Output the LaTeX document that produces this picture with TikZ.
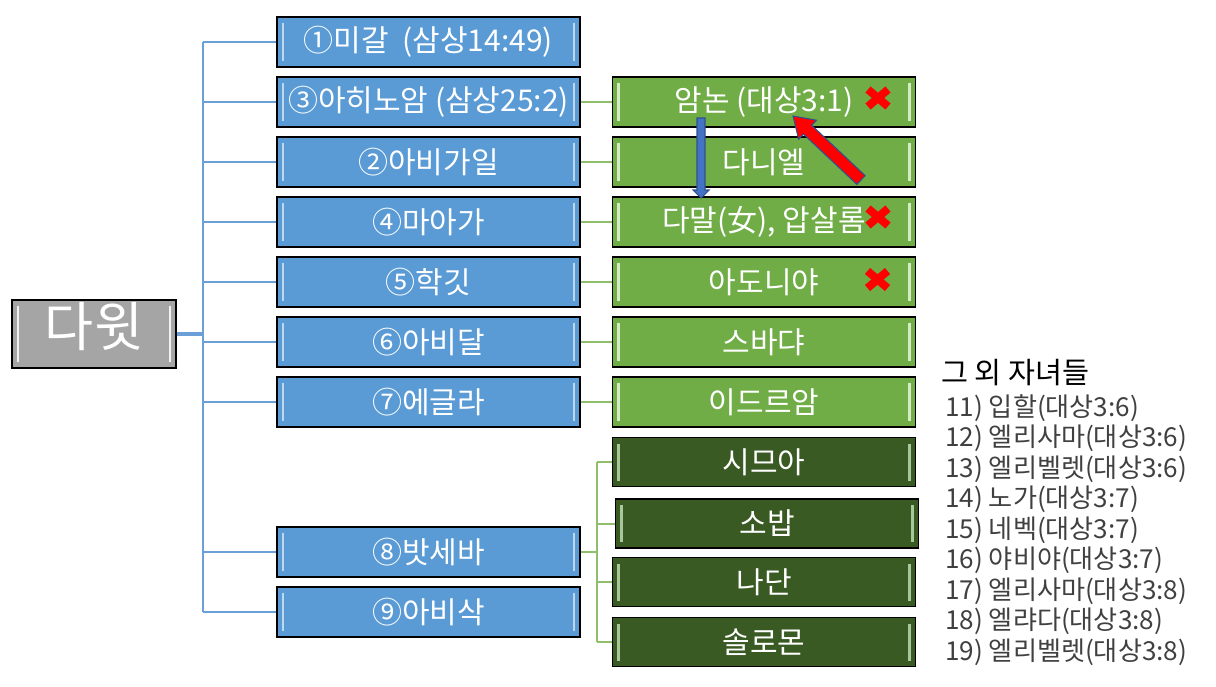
\documentclass[tikz,border=0pt]{standalone}
\usepackage{fontspec}
\setmainfont{Noto Sans CJK KR}
\definecolor{bfill}{HTML}{5B9BD5}
\definecolor{bhl}{HTML}{BDD7EE}
\definecolor{gfill}{HTML}{70AD47}
\definecolor{ghl}{HTML}{D5EBC5}
\definecolor{dfill}{HTML}{3A5A24}
\definecolor{dhl}{HTML}{A9C79A}
\definecolor{grfill}{HTML}{A5A5A5}
\definecolor{grhl}{HTML}{F2F2F2}
\definecolor{bline}{HTML}{6A9FD8}
\definecolor{gline}{HTML}{8FBF6C}
\definecolor{arrowblue}{HTML}{4472C4}
\definecolor{arrowedge}{HTML}{2F528F}
\definecolor{listgrey}{HTML}{404040}
\tikzset{
  bevel/.style={path picture={
    \draw[#1, line width=1.6pt] ([xshift=4.5pt,yshift=-4.5pt]path picture bounding box.north west) -- ([xshift=4.5pt,yshift=4.5pt]path picture bounding box.south west);
    \draw[#1, line width=1.6pt] ([xshift=-4.5pt,yshift=-4.5pt]path picture bounding box.north east) -- ([xshift=-4.5pt,yshift=4.5pt]path picture bounding box.south east);}},
  box/.style={draw=black, line width=0.8pt, minimum width=227.25pt, minimum height=37.5pt,
    inner sep=0pt, text=white, font=\fontsize{22.5}{26}\selectfont},
  bluebox/.style={box, fill=bfill, bevel=bhl},
  greenbox/.style={box, fill=gfill, bevel=ghl},
  darkbox/.style={box, fill=dfill, bevel=dhl, minimum height=36.75pt},
  rootbox/.style={box, fill=grfill, bevel=grhl, minimum width=123pt, minimum height=51pt},
  bconn/.style={draw=bline, line width=1.5pt},
  gconn/.style={draw=gline, line width=1.5pt},
  redcross/.style={draw=red, line width=6pt},
  blockarrow/.style={line width=0.8pt, draw=arrowedge, line join=miter},
  listitem/.style={anchor=west, inner sep=0pt, text=listgrey, font=\fontsize{19.6}{23}\selectfont},
}
\begin{document}
\begin{tikzpicture}[x=0.75pt, y=-0.75pt]
\useasboundingbox (0,0) rectangle (1216,686);

% root
\node[rootbox] (dawit) at (94,334) {};
\node[inner sep=0pt, text=white, font=\fontsize{40}{44}\selectfont] (dawittext) at (94,327) {다윗};

% blue column
\node[bluebox] (b1) at (428.5,42)  {①미갈\ \ (삼상14:49)};
\node[bluebox] (b3) at (428.5,102) {③아히노암 (삼상25:2)};
\node[bluebox] (b2) at (428.5,162) {②아비가일};
\node[bluebox] (b4) at (428.5,222) {④마아가};
\node[bluebox] (b5) at (428.5,282) {⑤학깃};
\node[bluebox] (b6) at (428.5,342) {⑥아비달};
\node[bluebox] (b7) at (428.5,402) {⑦에글라};
\node[bluebox] (b8) at (428.5,552) {⑧밧세바};
\node[bluebox] (b9) at (428.5,612) {⑨아비삭};

% green column
\node[greenbox] (g3) at (764,102) {암논 (대상3:1)};
\node[greenbox] (g2) at (764,162) {다니엘};
\node[greenbox] (g4) at (764,222) {다말(女), 압살롬};
\node[greenbox] (g5) at (764,282) {아도니야};
\node[greenbox] (g6) at (764,342) {스바댜};
\node[greenbox] (g7) at (764,402) {이드르암};

% dark green (Bathsheba's sons)
\node[darkbox] (s1) at (764,462)   {시므아};
\node[darkbox] (s2) at (767,523.5) {소밥};
\node[darkbox] (s3) at (764,582)   {나단};
\node[darkbox] (s4) at (764,642)   {솔로몬};

% trunk
\coordinate (trunktop) at (203,42);
\coordinate (trunkbot) at (203,612);
\draw[bconn] (trunktop) -- (trunkbot);
\draw[draw=bline, line width=2.3pt] (dawit.east) -- (dawit.east -| trunktop);
\foreach \n in {b1,b3,b2,b4,b5,b6,b7,b8,b9}
  \draw[bconn] (\n.west -| trunktop) -- (\n.west);

% blue -> green
\draw[gconn] (b3.east) -- (g3.west);
\draw[gconn] (b2.east) -- (g2.west);
\draw[gconn] (b4.east) -- (g4.west);
\draw[gconn] (b5.east) -- (g5.west);
\draw[gconn] (b6.east) -- (g6.west);
\draw[gconn] (b7.east) -- (g7.west);

% Bathsheba branch
\coordinate (stop) at (597,462);
\coordinate (sbot) at (597,642);
\draw[gconn] (stop) -- (sbot);
\draw[draw=gline, line width=2.2pt] (b8.east) -- (b8.east -| stop);
\foreach \n in {s1,s2,s3,s4}
  \draw[gconn] (\n.west -| stop) -- (\n.west);

% red crosses
\foreach \cx/\cy in {878/98, 878/217, 877.5/279.5}{
  \draw[redcross] (\cx-10,\cy-8.5) -- (\cx+10,\cy+8.5);
  \draw[redcross] (\cx-10,\cy+8.5) -- (\cx+10,\cy-8.5);
}

% blue block arrow (Amnon -> Tamar)
\filldraw[blockarrow, fill=arrowblue] (697,118) -- (705,118) -- (705,190) -- (709,190) -- (701,198) -- (693,190) -- (697,190) -- cycle;

% red block arrow (Absalom -> Amnon)
\filldraw[blockarrow, fill=red] (865.11,175.63) -- (811.67,125.33) -- (816.47,120.24) -- (793,116) -- (798.66,139.16) -- (803.45,134.07) -- (856.89,184.37) -- cycle;

% other children list
\node[anchor=west, inner sep=0pt, text=black, font=\fontsize{22}{26}\selectfont] (others) at (941,373) {그 외 자녀들};
\node[listitem] (c11) at (945,408)   {11) 입할(대상3:6)};
\node[listitem] (c12) at (945,438.5) {12) 엘리사마(대상3:6)};
\node[listitem] (c13) at (945,469)   {13) 엘리벨렛(대상3:6)};
\node[listitem] (c14) at (945,499.5) {14) 노가(대상3:7)};
\node[listitem] (c15) at (945,530)   {15) 네벡(대상3:7)};
\node[listitem] (c16) at (945,560.5) {16) 야비야(대상3:7)};
\node[listitem] (c17) at (945,591)   {17) 엘리사마(대상3:8)};
\node[listitem] (c18) at (945,621.5) {18) 엘랴다(대상3:8)};
\node[listitem] (c19) at (945,652)   {19) 엘리벨렛(대상3:8)};
\end{tikzpicture}
\end{document}
